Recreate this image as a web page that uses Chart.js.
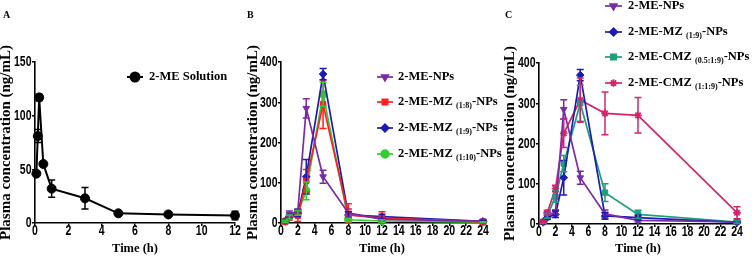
<!DOCTYPE html>
<html>
<head>
<meta charset="utf-8">
<script src="https://cdn.jsdelivr.net/npm/chart.js@4.4.0/dist/chart.umd.min.js"></script>
<style>
  html, body { margin: 0; padding: 0; background: #fff; }
  #wrap { position: relative; width: 752px; height: 259px; overflow: hidden; }
  .panel { position: absolute; top: 0; height: 259px; }
  .tag { position: absolute; top: 9px; font: bold 10px "Liberation Serif", serif; color: #000; }
</style>
</head>
<body>
<div id="wrap">
  <div class="panel" style="left:0px;width:246px"><canvas id="chartA" width="246" height="259"></canvas></div>
  <div class="panel" style="left:246px;width:266px"><canvas id="chartB" width="266" height="259"></canvas></div>
  <div class="panel" style="left:496px;width:256px"><canvas id="chartC" width="256" height="259"></canvas></div>
  <div class="tag" style="left:3px">A</div>
  <div class="tag" style="left:247px">B</div>
  <div class="tag" style="left:505px">C</div>
</div>
<script>
// sampling times (h)
const timeA = [0.083, 0.167, 0.25, 0.5, 1, 3, 5, 8, 12];
const timeBC = [0.5, 1, 2, 3, 5, 8, 12, 24];

// plasma concentration (ng/mL), mean and SD
const solutionMean = [46, 81, 117, 55, 32, 23, 9, 8, 7];
const solutionErr  = [0, 6, 3, 0, 8, 10, 1, 1, 4];

const npsMean   = [5, 22, 30, 285, 115, 25, 9, 5];
const npsErr    = [3, 8, 5, 24, 16, 10, 4, 3];
const mz18Mean  = [3, 14, 18, 105, 295, 20, 12, 3];
const mz18Err   = [2, 6, 14, 28, 60, 28, 16, 2];
const mz19Mean  = [4, 16, 24, 115, 370, 20, 16, 4];
const mz19Err   = [2, 5, 8, 43, 14, 8, 6, 2];
const mz110Mean = [4, 15, 25, 80, 320, 8, 5, 2];
const mz110Err  = [2, 5, 6, 22, 30, 4, 3, 1];
const cmz0519Mean = [5, 20, 68, 150, 300, 78, 24, 5];
const cmz0519Err  = [3, 6, 14, 20, 45, 22, 10, 3];
const cmz119Mean  = [6, 28, 88, 225, 308, 275, 270, 28];
const cmz119Err   = [3, 6, 8, 35, 55, 53, 44, 15];

const labelsA = ["2-ME Solution"];
const labelsB = ["2-ME-NPs", "2-ME-MZ (1:8)-NPs", "2-ME-MZ (1:9)-NPs", "2-ME-MZ (1:10)-NPs"];
const labelsC = ["2-ME-NPs", "2-ME-MZ (1:9)-NPs", "2-ME-CMZ (0.5:1:9)-NPs", "2-ME-CMZ (1:1:9)-NPs"];

const ticksA = { max: 12, step: 2, yMax: 150, yStep: 50 };
const ticksBC = { max: 24, step: 2, yMax: 400, yStep: 100 };

const SERIF = '"Liberation Serif", "Times New Roman", serif';
const SANS = '"Liberation Sans", Arial, sans-serif';

function pts(times, vals) {
  return times.map((t, i) => ({ x: t, y: vals[i] }));
}

function series(label, times, vals, errs, color, style, rot, r) {
  return {
    label: label,
    data: pts(times, vals),
    errors: errs,
    borderColor: color,
    backgroundColor: color,
    borderWidth: r ? 2 : 1.7,
    pointStyle: style,
    rotation: rot || 0,
    pointRadius: r || 3.8,
    pointBorderWidth: style === "star" ? 1.8 : 1,
    tension: 0,
    clip: false,
  };
}

// vertical error bars with caps, placed through the chart scales
const errorBars = {
  id: "errorBars",
  afterDatasetsDraw(chart) {
    const ctx = chart.ctx, xs = chart.scales.x, ys = chart.scales.y;
    chart.data.datasets.forEach(ds => {
      if (!ds.errors) return;
      ctx.save();
      ctx.strokeStyle = ds.borderColor;
      ctx.lineWidth = 1.5;
      ds.data.forEach((p, j) => {
        const e = ds.errors[j];
        if (!e) return;
        const px = xs.getPixelForValue(p.x);
        const t = ys.getPixelForValue(p.y + e);
        const b = ys.getPixelForValue(Math.max(p.y - e, 0));
        ctx.beginPath();
        ctx.moveTo(px, t); ctx.lineTo(px, b);
        ctx.moveTo(px - 3.5, t); ctx.lineTo(px + 3.5, t);
        ctx.moveTo(px - 3.5, b); ctx.lineTo(px + 3.5, b);
        ctx.stroke();
      });
      ctx.restore();
    });
  }
};

// condensed bold tick labels, like the narrow font of the original figure
const narrowTicks = {
  id: "narrowTicks",
  afterDraw(chart) {
    const ctx = chart.ctx, xs = chart.scales.x, ys = chart.scales.y;
    ctx.save();
    ctx.fillStyle = "#000";
    ctx.font = "bold 14px " + SANS;
    ctx.textBaseline = "middle";
    xs.ticks.forEach(t => {
      ctx.save();
      ctx.translate(xs.getPixelForValue(t.value), xs.top + 8);
      ctx.scale(0.75, 1);
      ctx.textAlign = "center";
      ctx.fillText(t.label, 0, 0);
      ctx.restore();
    });
    ys.ticks.forEach(t => {
      ctx.save();
      ctx.translate(ys.right - 3.5, ys.getPixelForValue(t.value) + 0.5);
      ctx.scale(0.75, 1);
      ctx.textAlign = "right";
      ctx.fillText(t.label, 0, 0);
      ctx.restore();
    });
    ctx.restore();
  }
};

// legend with line + marker and subscripted ratios
const subLegend = {
  id: "subLegend",
  afterDraw(chart, args, opts) {
    const ctx = chart.ctx;
    chart.data.datasets.forEach((ds, i) => {
      const y = opts.rows[i];
      ctx.save();
      ctx.strokeStyle = ds.borderColor;
      ctx.fillStyle = ds.backgroundColor;
      ctx.lineWidth = ds.borderWidth;
      ctx.beginPath();
      ctx.moveTo(opts.x1, y); ctx.lineTo(opts.x2, y);
      ctx.stroke();
      Chart.helpers.drawPoint(ctx, {
        pointStyle: ds.pointStyle, rotation: ds.rotation, radius: ds.pointRadius,
        borderWidth: ds.pointBorderWidth
      }, (opts.x1 + opts.x2) / 2, y);
      ctx.fillStyle = "#000";
      ctx.textBaseline = "middle";
      const m = ds.label.match(/^(.*?) (\(.*?\))(.*)$/);
      let x = opts.tx;
      const big = "bold 12.5px " + SERIF, small = "bold 8px " + SERIF;
      if (m) {
        ctx.font = big;
        ctx.fillText(m[1] + " ", x, y);
        x += ctx.measureText(m[1] + " ").width;
        ctx.font = small;
        ctx.fillText(m[2], x, y + 4);
        x += ctx.measureText(m[2]).width;
        ctx.font = big;
        ctx.fillText(m[3], x, y);
      } else {
        ctx.font = big;
        ctx.fillText(ds.label, x, y);
      }
      ctx.restore();
    });
  }
};

function makeChart(id, datasets, tk, box, legend) {
  new Chart(document.getElementById(id), {
    type: "line",
    data: { datasets: datasets },
    options: {
      responsive: false,
      animation: false,
      devicePixelRatio: 1,
      layout: { padding: { top: box.top, right: box.right, left: 0, bottom: 0 } },
      plugins: { legend: { display: false }, tooltip: { enabled: false }, subLegend: legend },
      scales: {
        x: {
          type: "linear", min: 0, max: tk.max,
          afterFit: s => { s.height = 259 - box.bottom; },
          ticks: { stepSize: tk.step, display: false, autoSkip: false },
          grid: { display: true, drawOnChartArea: false, tickLength: 3, color: "#000", lineWidth: 1.5 },
          border: { color: "#000", width: 1.6 },
          title: { display: true, text: "Time (h)", color: "#000", padding: { top: 0, bottom: 3 },
                   font: { family: SERIF, size: 12.5, weight: "bold", lineHeight: 1.2 } }
        },
        y: {
          min: 0, max: tk.yMax,
          afterFit: s => { s.width = box.left; },
          ticks: { stepSize: tk.yStep, display: false },
          grid: { display: true, drawOnChartArea: false, tickLength: 3, color: "#000", lineWidth: 1.5 },
          border: { color: "#000", width: 1.6 },
          title: { display: true, text: "Plasma concentration (ng/mL)", color: "#000",
                   padding: { top: box.tpad, bottom: 0 },
                   font: { family: SERIF, size: 15, weight: "bold", lineHeight: 1 } }
        }
      }
    },
    plugins: [errorBars, narrowTicks, subLegend]
  });
}

const PURPLE = "#7a2aa6", RED = "#ff1f1f", BLUE = "#1c1cb4", GREEN = "#33cc33",
      TEAL = "#1f9e7a", PINK = "#d6246c", BLACK = "#000000";

makeChart("chartA", [
  series(labelsA[0], timeA, solutionMean, solutionErr, BLACK, "circle", 0, 4.5),
], ticksA, { left: 35, right: 11, top: 62, bottom: 223, tpad: -1 },
  { x1: 127, x2: 143, tx: 149, rows: [77] });

makeChart("chartB", [
  series(labelsB[0], timeBC, npsMean, npsErr, PURPLE, "triangle", 180),
  series(labelsB[1], timeBC, mz18Mean, mz18Err, RED, "rect"),
  series(labelsB[2], timeBC, mz19Mean, mz19Err, BLUE, "rectRot"),
  series(labelsB[3], timeBC, mz110Mean, mz110Err, GREEN, "circle"),
], ticksBC, { left: 35, right: 29, top: 62, bottom: 223, tpad: 0 },
  { x1: 131, x2: 147, tx: 152, rows: [77, 102, 128, 154] });

makeChart("chartC", [
  series(labelsC[0], timeBC, npsMean, npsErr, PURPLE, "triangle", 180),
  series(labelsC[1], timeBC, mz19Mean, mz19Err, BLUE, "rectRot"),
  series(labelsC[2], timeBC, cmz0519Mean, cmz0519Err, TEAL, "rect"),
  series(labelsC[3], timeBC, cmz119Mean, cmz119Err, PINK, "star"),
], ticksBC, { left: 43, right: 15, top: 63, bottom: 224, tpad: 6.5 },
  { x1: 109, x2: 126, tx: 132, rows: [6, 32, 57, 83] });
</script>
</body>
</html>
